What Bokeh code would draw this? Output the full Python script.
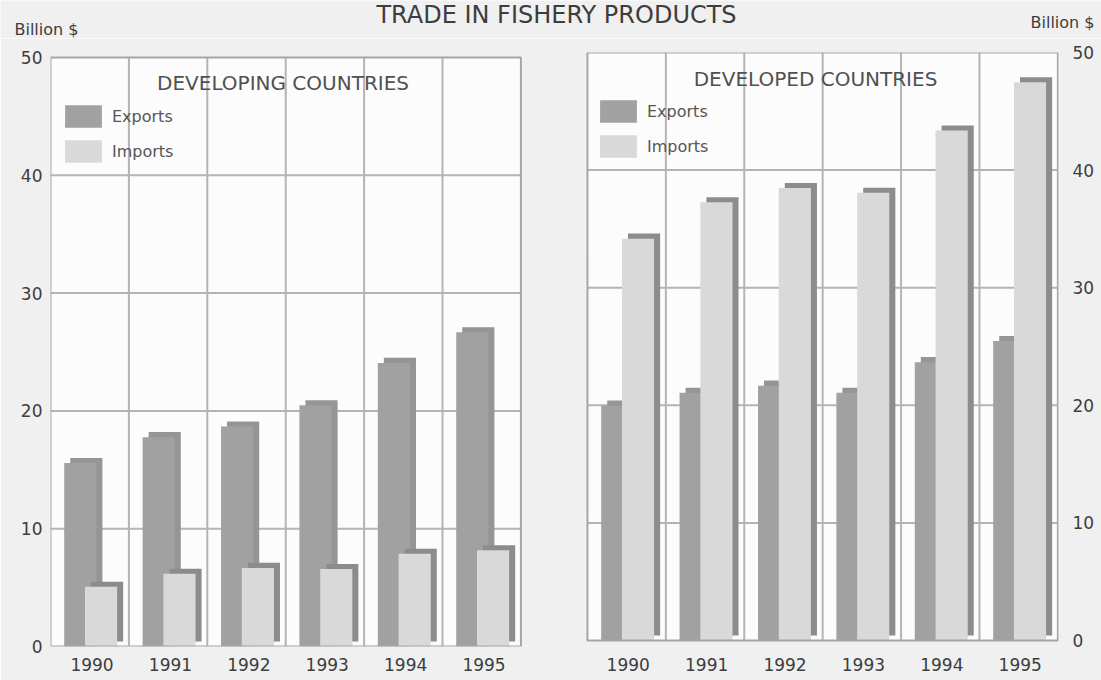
import numpy as np
from bokeh.plotting import figure
from bokeh.layouts import column, row
from bokeh.models import (Range1d, FixedTicker, Legend, LegendItem, LinearAxis,
                          CustomJSTickFormatter)
from bokeh.core.properties import value
from bokeh.embed import file_html
from bokeh.resources import INLINE

# Trade in fishery products, billion US$
years = ["1990", "1991", "1992", "1993", "1994", "1995"]
developing_exports = [16.0, 18.2, 19.1, 20.9, 24.5, 27.1]
developing_imports = [5.5, 6.6, 7.1, 7.0, 8.3, 8.6]
developed_exports = [20.4, 21.5, 22.1, 21.5, 24.1, 25.9]
developed_imports = [34.6, 37.7, 38.9, 38.5, 43.8, 47.9]
y_ticks = [0, 10, 20, 30, 40, 50]

FONT = "DejaVu Sans"
TEXT = "#3d3d3d"
PAGE_BG = "#f0f0f0"
PLOT_BG = "#fcfcfc"
GRID = "#b4b4b4"
FRAME = "#a6a6a6"
EXP_FACE, EXP_BACK = "#a1a1a1", "#959595"
IMP_FACE, IMP_BACK = "#d9d9d9", "#8c8c8c"

HEAD_H = 38

# one x unit = one year slot; both panels share the x scale
LEFT_X0, RIGHT_X0 = 0.0, 6.849
BAR_W = 0.41
EXP_C = 0.38
IMP_C = 0.645
DX, DY = 0.077, 0.43  # depth offset of each bar's back face

p = figure(width=1101, height=680 - HEAD_H, output_backend="svg", title=None,
           toolbar_location=None,
           x_range=Range1d(0, 12.857), y_range=Range1d(0, 50.42),
           min_border_left=50, min_border_right=43,
           min_border_top=52 - HEAD_H, min_border_bottom=34)
p.extra_y_ranges = {"right": Range1d(-0.51, 50)}
p.background_fill_color = PAGE_BG
p.border_fill_color = PAGE_BG
p.outline_line_color = None
p.grid.visible = False

n = len(years)
idx = np.arange(n)
tick_pos = []


def panel(x0, exports, imports, y_name, label_off, subtitle, sub_x, sub_y,
          legend_loc):
    kw = {} if y_name is None else {"y_range_name": y_name}
    slot = x0 + idx

    # panel area and grid
    p.quad(left=[x0], right=[x0 + n], bottom=[0], top=[50],
           fill_color=PLOT_BG, line_color=None, **kw)
    vx = list(x0 + idx[1:])
    p.segment(x0=vx, x1=vx, y0=[0] * len(vx), y1=[50] * len(vx),
              line_color=GRID, line_width=2, **kw)
    hy = y_ticks[1:-1]
    p.segment(x0=[x0] * len(hy), x1=[x0 + n] * len(hy), y0=hy, y1=hy,
              line_color=GRID, line_width=2, **kw)

    exp = np.array(exports)
    imp = np.array(imports)
    p.vbar(x=slot + EXP_C + DX, width=BAR_W, bottom=DY, top=exp,
           fill_color=EXP_BACK, line_color=None, **kw)
    ef = p.vbar(x=slot + EXP_C, width=BAR_W, bottom=0, top=exp - DY,
                fill_color=EXP_FACE, line_color=None, **kw)
    p.vbar(x=slot + IMP_C + DX, width=BAR_W, bottom=DY, top=imp,
           fill_color=IMP_BACK, line_color=None, **kw)
    im = p.vbar(x=slot + IMP_C, width=BAR_W, bottom=0, top=imp - DY,
                fill_color=IMP_FACE, line_color=None, **kw)

    p.quad(left=[x0], right=[x0 + n], bottom=[0], top=[50],
           fill_color=None, line_color=FRAME, line_width=2, **kw)

    p.text(x=[sub_x], y=[sub_y], text=[subtitle], text_align="center",
           text_baseline="alphabetic", text_font=value(FONT),
           text_font_size="20px", text_color="#505050", **kw)

    legend = Legend(items=[LegendItem(label="Exports", renderers=[ef]),
                           LegendItem(label="Imports", renderers=[im])],
                    location=legend_loc, orientation="vertical",
                    padding=0, margin=0, spacing=7,
                    glyph_width=46, glyph_height=28, label_standoff=6,
                    border_line_color=None, background_fill_alpha=0,
                    label_text_font=FONT, label_text_font_size="16px",
                    label_text_color="#555555")
    p.add_layout(legend)
    tick_pos.extend(list(slot + label_off))


panel(LEFT_X0, developing_exports, developing_imports, None, 0.53,
      "DEVELOPING COUNTRIES", 2.966, 47.87, (10, 481))
panel(RIGHT_X0, developed_exports, developed_imports, "right", 0.52,
      "DEVELOPED COUNTRIES", 9.758, 47.78, (545, 486))

# axes: years under each panel, values on both outer sides
p.xaxis.ticker = FixedTicker(ticks=tick_pos)
p.xaxis.formatter = CustomJSTickFormatter(args=dict(labels=years + years),
                                          code="return labels[index];")
p.yaxis.ticker = FixedTicker(ticks=y_ticks)
p.add_layout(LinearAxis(y_range_name="right",
                        ticker=FixedTicker(ticks=y_ticks)), "right")
for ax in p.axis:
    ax.axis_line_color = None
    ax.major_tick_line_color = None
    ax.minor_tick_line_color = None
    ax.major_tick_out = 0
    ax.major_tick_in = 0
    ax.minor_tick_out = 0
    ax.minor_tick_in = 0
    ax.major_label_text_font = FONT
    ax.major_label_text_color = TEXT
    ax.major_label_text_font_size = "17px"
p.xaxis.major_label_standoff = 11
p.left[0].major_label_standoff = 8
p.right[0].major_label_standoff = 14

# heading strip: main title and the unit captions (y grows downward)
head = figure(width=1101, height=HEAD_H, output_backend="svg", title=None,
              toolbar_location=None, x_range=Range1d(0, 1101),
              y_range=Range1d(HEAD_H, 0), min_border=0)
head.axis.visible = False
head.grid.visible = False
head.outline_line_color = None
head.background_fill_color = PAGE_BG
head.border_fill_color = PAGE_BG
head.text(x=[556], y=[14], text=["TRADE IN FISHERY PRODUCTS"],
          text_align="center", text_baseline="middle",
          text_font=value(FONT), text_font_size="24px", text_color=TEXT)
head.text(x=[14], y=[29], text=["Billion $"], text_align="left",
          text_baseline="middle", text_font=value(FONT),
          text_font_size="16px", text_color=TEXT)
head.text(x=[1094], y=[22], text=["Billion $"], text_align="right",
          text_baseline="middle", text_font=value(FONT),
          text_font_size="16px", text_color=TEXT)

open("out.html", "w").write(file_html(column(head, row(p)), INLINE))
